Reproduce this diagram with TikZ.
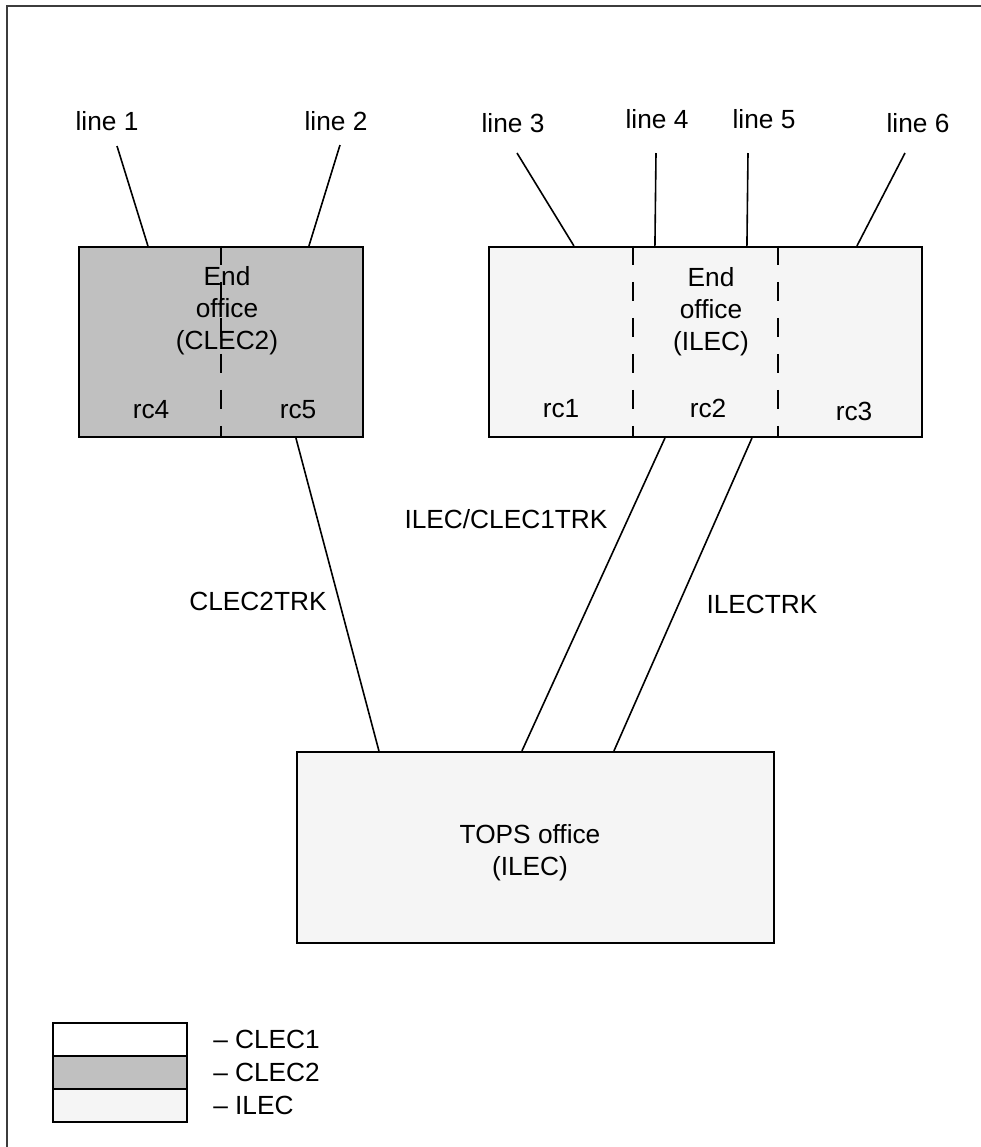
\documentclass[tikz,border=0pt]{standalone}
\usepackage{fontspec}
\setmainfont{Liberation Sans}
\usepackage{xcolor}
\usepackage{tikz}
\usetikzlibrary{positioning,calc}
\definecolor{TRKclec}{HTML}{C0C0C0}
\definecolor{TRKilec}{HTML}{F5F5F5}
\definecolor{TRKframe}{HTML}{3C3C3C}
\tikzset{
  officebox/.style={rectangle, draw=black, line width=1.6pt, inner sep=0pt, minimum height=142.5pt},
  rcsplit/.style={draw=black, line width=1.3pt, dash pattern=on 14pt off 13pt},
  wire/.style={draw=black, line width=1.2pt},
  lbl/.style={inner sep=0pt, font=\fontsize{19.7pt}{24pt}\selectfont, text=black},
  boxtext/.style={lbl, align=center, anchor=base},
  legbox/.style={rectangle, draw=black, line width=1.6pt, inner sep=0pt, outer sep=0pt, minimum width=100.5pt, minimum height=24.75pt},
  frameline/.style={draw=TRKframe, line width=1.5pt}
}
\begin{document}
\begin{tikzpicture}[x=0.75pt, y=-0.75pt]
\useasboundingbox (0,0) rectangle (981,1147);
\draw[frameline] (7,1147) -- (7,6) -- (981,6);

% end offices and TOPS
\node[officebox, fill=TRKclec, minimum width=213pt] (eoclec) at (221,342) {};
\node[officebox, fill=TRKilec, minimum width=324.75pt] (eoilec) at (705.5,342) {};
\node[officebox, fill=TRKilec, minimum width=357.75pt, minimum height=143.25pt] (tops) at (535.5,847.5) {};

\draw[rcsplit] (eoclec.north) -- (eoclec.south);
\draw[rcsplit] ($(eoilec.north west)!1/3!(eoilec.north east)$) -- ($(eoilec.south west)!1/3!(eoilec.south east)$);
\draw[rcsplit] ($(eoilec.north west)!2/3!(eoilec.north east)$) -- ($(eoilec.south west)!2/3!(eoilec.south east)$);

% box texts: base is the last line
\node[boxtext] (eocleclbl) at (227,349) {End\\office\\(CLEC2)};
\node[boxtext] (eoileclbl) at (711,350) {End\\office\\(ILEC)};
\node[boxtext] (topslbl) at (530,875) {TOPS office\\(ILEC)};
\node[lbl, anchor=base] (rc4) at (151,418) {rc4};
\node[lbl, anchor=base] (rc5) at (298,418) {rc5};
\node[lbl, anchor=base] (rc1) at (561,417) {rc1};
\node[lbl, anchor=base] (rc2) at (708,417) {rc2};
\node[lbl, anchor=base] (rc3) at (854,420) {rc3};

% subscriber lines
\node[lbl, anchor=base] (ln1) at (107,130) {line 1};
\node[lbl, anchor=base] (ln2) at (336,130) {line 2};
\node[lbl, anchor=base] (ln3) at (513,132) {line 3};
\node[lbl, anchor=base] (ln4) at (657,128) {line 4};
\node[lbl, anchor=base] (ln5) at (764,128) {line 5};
\node[lbl, anchor=base] (ln6) at (918,132) {line 6};
\coordinate (lnend1) at (117,146);
\coordinate (lnend2) at (340,145);
\coordinate (lnend3) at (517,153);
\coordinate (lnend4) at (656,153);
\coordinate (lnend5) at (748,153);
\coordinate (lnend6) at (905,153);
\draw[wire] (lnend1) -- ([xshift=52.5pt]eoclec.north west);
\draw[wire] (lnend2) -- ([xshift=173.25pt]eoclec.north west);
\draw[wire] (lnend3) -- ([xshift=64.5pt]eoilec.north west);
\draw[wire] (lnend4) -- ([xshift=125.25pt]eoilec.north west);
\draw[wire] (lnend5) -- ([xshift=194.25pt]eoilec.north west);
\draw[wire] (lnend6) -- ([xshift=276.75pt]eoilec.north west);

% trunks
\draw[wire] ([xshift=163.5pt]eoclec.south west) -- ([xshift=62.25pt]tops.north west);
\draw[wire] ([xshift=132.75pt]eoilec.south west) -- ([xshift=169.5pt]tops.north west);
\draw[wire] ([xshift=198pt]eoilec.south west) -- ([xshift=238.5pt]tops.north west);
\node[lbl, anchor=base] (clec2trk) at (258,610) {CLEC2TRK};
\node[lbl, anchor=base] (clec1trk) at (506,528) {ILEC/CLEC1TRK};
\node[lbl, anchor=base] (ilectrk) at (762,613) {ILECTRK};

% legend
\node[legbox, fill=white] (legA) at (120,1039.5) {};
\node[legbox, fill=TRKclec, below=0pt of legA] (legB) {};
\node[legbox, fill=TRKilec, below=0pt of legB] (legC) {};
\node[lbl, right=19.5pt of legA] (legAtxt) {-- CLEC1};
\node[lbl, right=19.5pt of legB] (legBtxt) {-- CLEC2};
\node[lbl, right=19.5pt of legC] (legCtxt) {-- ILEC};
\end{tikzpicture}
\end{document}
